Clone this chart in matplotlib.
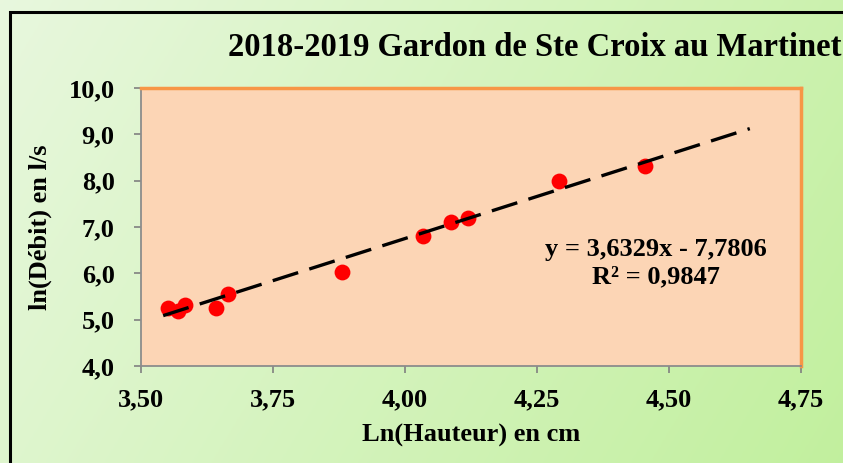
import numpy as np
import matplotlib
matplotlib.use("Agg")
from matplotlib import pyplot as plt
from matplotlib.patches import Rectangle

# données
ln_hauteur = [3.552, 3.570, 3.583, 3.642, 3.665, 3.881, 4.034, 4.087, 4.119, 4.292, 4.455]
ln_debit = [5.25, 5.18, 5.31, 5.25, 5.55, 6.03, 6.80, 7.11, 7.19, 7.99, 8.32]
pente, origine = 3.6329, -7.7806
x_tendance = [3.542, 4.653]
x_ticks = [3.50, 3.75, 4.00, 4.25, 4.50, 4.75]
y_ticks = [4.0, 5.0, 6.0, 7.0, 8.0, 9.0, 10.0]

plt.rcParams['font.family'] = ['Liberation Serif', 'DejaVu Serif']
plt.rcParams['font.weight'] = 'bold'

W, H = 843, 463
fig = plt.figure(figsize=(W / 100, H / 100), dpi=100)

# fond dégradé vert (clair en haut à gauche, plus vert à droite)
bg = fig.add_axes([0, 0, 1, 1], zorder=-10)
gx, gy = np.meshgrid(np.linspace(0, 1, 200), np.linspace(0, 1, 200))
t = 0.75 * gx + 0.25 * gy
c1 = np.array([0.91, 0.97, 0.87])
c2 = np.array([0.76, 0.94, 0.62])
img = c1[None, None, :] * (1 - t[..., None]) + c2[None, None, :] * t[..., None]
bg.imshow(img, aspect='auto', extent=[0, 1, 0, 1], origin='upper')
bg.set_axis_off()
fig.patches.append(Rectangle((10 / W, -0.05), 1.1, 1 - 12 / H + 0.05,
                             transform=fig.transFigure, fill=False,
                             edgecolor='black', linewidth=2.2))

x0, x1 = 141, 801
y0, y1 = 88, 366
ax = fig.add_axes([x0 / W, 1 - y1 / H, (x1 - x0) / W, (y1 - y0) / H])
ax.set_facecolor('#fcd5b5')

ax.scatter(ln_hauteur, ln_debit, s=130, color='red', zorder=3, linewidths=0)
xt = np.array(x_tendance)
ax.plot(xt, pente * xt + origine, color='black', linewidth=2.4,
        dashes=(8, 3.5), zorder=4)

ax.set_xlim(3.50, 4.75)
ax.set_ylim(4.0, 10.0)
ax.set_xticks(x_ticks)
ax.set_yticks(y_ticks)
ax.set_xticklabels([f"{v:.2f}".replace('.', ',') for v in x_ticks])
ax.set_yticklabels([f"{v:.1f}".replace('.', ',') for v in y_ticks])
ax.tick_params(axis='both', labelsize=19, colors='#808080', length=5,
               width=1.2, direction='out')
ax.tick_params(axis='y', pad=14)
ax.tick_params(axis='x', pad=11)
for lab in ax.get_xticklabels() + ax.get_yticklabels():
    lab.set_color('black')
    lab.set_fontweight('bold')

ax.spines['top'].set_color('#f79646')
ax.spines['right'].set_color('#f79646')
ax.spines['top'].set_linewidth(2.5)
ax.spines['right'].set_linewidth(2.5)
ax.spines['left'].set_color('#8c8c8c')
ax.spines['bottom'].set_color('#8c8c8c')
ax.spines['left'].set_linewidth(1.3)
ax.spines['bottom'].set_linewidth(1.3)

ax.set_xlabel("Ln(Hauteur) en cm", fontsize=19, fontweight='bold', labelpad=9)
ax.set_ylabel("ln(Débit) en l/s", fontsize=19, fontweight='bold', labelpad=12)

fig.text(228 / W, 1 - 47 / H, "2018-2019 Gardon de Ste Croix au Martinet",
         fontsize=23.5, fontweight='bold', ha='left', va='center')

ax.text(0.78, 0.37, "y = 3,6329x - 7,7806\nR² = 0,9847", transform=ax.transAxes,
        fontsize=19, fontweight='bold', ha='center', va='center',
        linespacing=1.2)

fig.savefig("out.png", dpi=100)
